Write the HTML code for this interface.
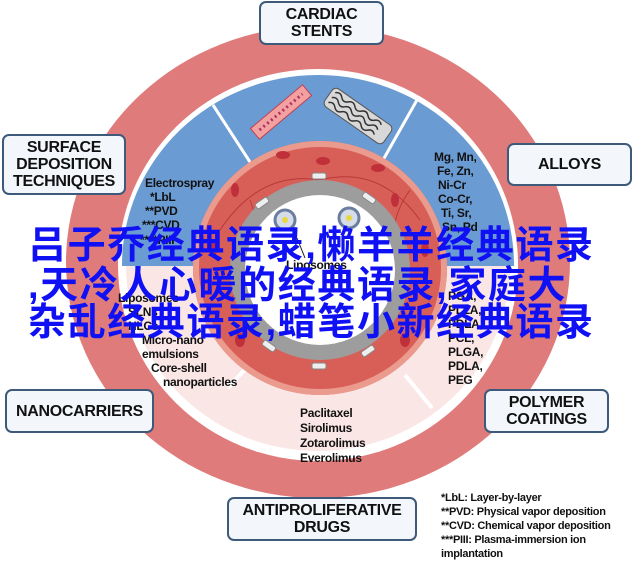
<!DOCTYPE html>
<html><head><meta charset="utf-8"><style>
html,body{margin:0;padding:0;background:#fff;}
body{width:633px;height:561px;position:relative;overflow:hidden;font-family:"Liberation Sans",sans-serif;}
svg{position:absolute;left:0;top:0;}
.box{position:absolute;background:#f3f7fb;border:2px solid #3d5a7a;border-radius:7px;box-sizing:border-box;display:flex;align-items:center;justify-content:center;text-align:center;font-weight:bold;font-size:16px;line-height:17px;color:#111;letter-spacing:-0.3px;}
.t{position:absolute;font-weight:bold;font-size:12px;line-height:14px;color:#111;white-space:nowrap;letter-spacing:-0.3px;}
.cn{position:absolute;left:28px;font-family:"Liberation Sans","Noto Sans CJK SC",sans-serif;font-weight:bold;font-size:38px;line-height:38px;color:#1010f5;white-space:nowrap;letter-spacing:1.6px;}
</style></head><body>
<svg width="633" height="561" viewBox="0 0 633 561">
<ellipse cx="318" cy="262" rx="252" ry="236" fill="#e07b7b"/>
<ellipse cx="318" cy="265" rx="200" ry="196" fill="#fff"/>
<clipPath id="top"><rect x="0" y="0" width="633" height="266"/></clipPath>
<clipPath id="bot"><rect x="0" y="266" width="633" height="300"/></clipPath>
<ellipse cx="318" cy="265" rx="196" ry="190" fill="#6b9bd3" clip-path="url(#top)"/>
<ellipse cx="318" cy="265" rx="192" ry="186" fill="#fbe6e6" clip-path="url(#bot)"/>
<line x1="213" y1="105" x2="250" y2="162" stroke="#fff" stroke-width="3"/>
<line x1="417" y1="100" x2="383" y2="160" stroke="#fff" stroke-width="3"/>
<line x1="228" y1="388" x2="258" y2="355" stroke="#fff" stroke-width="4"/>
<line x1="405" y1="375" x2="432" y2="408" stroke="#fff" stroke-width="4"/>
<g transform="translate(281,112) rotate(-40)">
<rect x="-34" y="-7" width="68" height="14" fill="#f2a0a0" stroke="#c04050" stroke-width="1"/>
<line x1="-28" y1="0" x2="28" y2="0" stroke="#b03060" stroke-width="3" stroke-dasharray="2 3"/>
</g>
<g transform="translate(358,116) rotate(35)">
<rect x="-36" y="-11" width="72" height="22" rx="5" fill="#d8d8d8" stroke="#555" stroke-width="1"/>
<path d="M-32 -6 q4 -4 8 0 t8 0 t8 0 t8 0 t8 0 t8 0 t8 0 M-32 0 q4 -4 8 0 t8 0 t8 0 t8 0 t8 0 t8 0 t8 0 M-32 6 q4 -4 8 0 t8 0 t8 0 t8 0 t8 0 t8 0 t8 0" stroke="#333" fill="none" stroke-width="1.5"/>
</g>
<circle cx="320" cy="268" r="127" fill="#d85f58"/>
<circle cx="320" cy="268" r="124" fill="none" stroke="#eb9a8e" stroke-width="6"/>
<path d="M220 230 Q260 170 320 180 Q380 165 420 220 M230 300 Q270 250 250 200 M400 300 Q380 230 410 190" stroke="#b8383a" fill="none" stroke-width="1"/>
<g fill="#c0303a">
<ellipse cx="283" cy="155" rx="7" ry="4"/><ellipse cx="323" cy="161" rx="7" ry="4"/><ellipse cx="378" cy="168" rx="7" ry="4"/>
<ellipse cx="235" cy="190" rx="4" ry="7"/><ellipse cx="395" cy="200" rx="4" ry="7"/><ellipse cx="213" cy="250" rx="4" ry="7"/><ellipse cx="425" cy="250" rx="4" ry="7"/>
<ellipse cx="240" cy="340" rx="5" ry="7"/><ellipse cx="405" cy="340" rx="5" ry="7"/>
</g>
<circle cx="320" cy="270" r="90" fill="#9d9d9d"/>
<circle cx="320" cy="270" r="75" fill="#fff"/>
<g fill="#eee" stroke="#888" stroke-width="1">
<rect x="312" y="173" width="14" height="6" rx="2"/><rect x="255" y="200" width="14" height="6" rx="2" transform="rotate(-35 262 203)"/><rect x="362" y="195" width="14" height="6" rx="2" transform="rotate(35 369 198)"/>
<rect x="312" y="363" width="14" height="6" rx="2"/><rect x="262" y="343" width="14" height="6" rx="2" transform="rotate(35 269 346)"/><rect x="361" y="348" width="14" height="6" rx="2" transform="rotate(-35 368 351)"/>
</g>
<circle cx="285" cy="220" r="10" fill="#d6dce8" stroke="#6a7ea0" stroke-width="3"/><circle cx="285" cy="220" r="3" fill="#e8d840"/>
<circle cx="349" cy="218" r="10" fill="#d6dce8" stroke="#6a7ea0" stroke-width="3"/><circle cx="349" cy="218" r="3" fill="#e8d840"/>
<line x1="297" y1="238" x2="305" y2="258" stroke="#222" stroke-width="1"/>
</svg>
<div class="box" style="left:259px;top:1px;width:125px;height:44px;">CARDIAC<br>STENTS</div>
<div class="box" style="left:2px;top:134px;width:124px;height:61px;">SURFACE<br>DEPOSITION<br>TECHNIQUES</div>
<div class="box" style="left:507px;top:143px;width:125px;height:43px;">ALLOYS</div>
<div class="box" style="left:5px;top:389px;width:149px;height:44px;">NANOCARRIERS</div>
<div class="box" style="left:484px;top:389px;width:125px;height:44px;">POLYMER<br>COATINGS</div>
<div class="box" style="left:227px;top:497px;width:190px;height:44px;">ANTIPROLIFERATIVE<br>DRUGS</div>
<div class="t" style="left:145px;top:176px;">Electrospray</div>
<div class="t" style="left:150px;top:190px;">*LbL</div>
<div class="t" style="left:145px;top:204px;">**PVD</div>
<div class="t" style="left:142px;top:218px;">***CVD</div>
<div class="t" style="left:140px;top:233px;">****PIII</div>
<div class="t" style="left:434px;top:150px;">Mg, Mn,</div>
<div class="t" style="left:437px;top:164px;">Fe, Zn,</div>
<div class="t" style="left:438px;top:178px;">Ni-Cr</div>
<div class="t" style="left:438px;top:192px;">Co-Cr,</div>
<div class="t" style="left:441px;top:206px;">Ti, Sr,</div>
<div class="t" style="left:442px;top:220px;">Sn, Pd</div>
<div class="t" style="left:286px;top:258px;">Liposomes</div>
<div class="t" style="left:118px;top:291px;">Liposomes</div>
<div class="t" style="left:128px;top:305px;">SLNs</div>
<div class="t" style="left:128px;top:319px;">NLCs</div>
<div class="t" style="left:142px;top:333px;">Micro-nano</div>
<div class="t" style="left:142px;top:347px;">emulsions</div>
<div class="t" style="left:151px;top:361px;">Core-shell</div>
<div class="t" style="left:163px;top:375px;">nanoparticles</div>
<div class="t" style="left:448px;top:289px;">PGA,</div>
<div class="t" style="left:448px;top:303px;">PLLA,</div>
<div class="t" style="left:448px;top:317px;">PDLA,</div>
<div class="t" style="left:448px;top:331px;">PCL,</div>
<div class="t" style="left:448px;top:345px;">PLGA,</div>
<div class="t" style="left:448px;top:359px;">PDLA,</div>
<div class="t" style="left:448px;top:373px;">PEG</div>
<div class="t" style="left:300px;top:406px;">Paclitaxel</div>
<div class="t" style="left:300px;top:421px;">Sirolimus</div>
<div class="t" style="left:300px;top:436px;">Zotarolimus</div>
<div class="t" style="left:300px;top:451px;">Everolimus</div>
<div class="t" style="left:441px;top:491px;font-size:11px;">*LbL: Layer-by-layer</div>
<div class="t" style="left:441px;top:505px;font-size:11px;">**PVD: Physical vapor deposition</div>
<div class="t" style="left:441px;top:519px;font-size:11px;">**CVD: Chemical vapor deposition</div>
<div class="t" style="left:441px;top:533px;font-size:11px;">***PIII: Plasma-immersion ion</div>
<div class="t" style="left:441px;top:547px;font-size:11px;">implantation</div>
<div class="cn" style="top:227px;">吕子乔经典语录,懒羊羊经典语录</div>
<div class="cn" style="top:267px;">,天冷人心暖的经典语录,家庭大</div>
<div class="cn" style="top:304px;">杂乱经典语录,蜡笔小新经典语录</div>
</body></html>
